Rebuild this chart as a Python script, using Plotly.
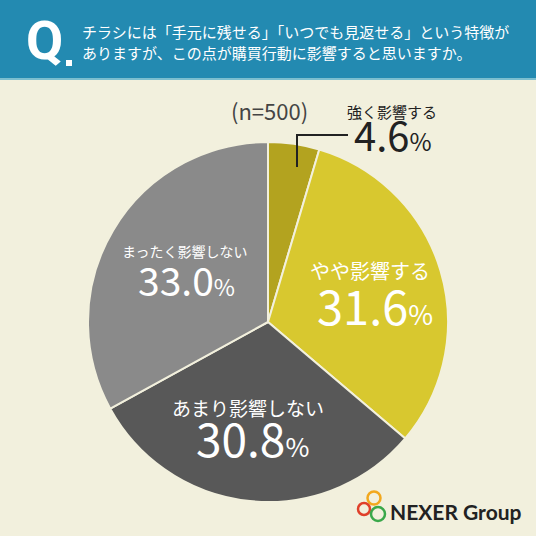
import plotly.graph_objects as go

# survey result (n=500)
labels = ["強く影響する", "やや影響する", "あまり影響しない", "まったく影響しない"]
values = [4.6, 31.6, 30.8, 33.0]
colors = ["#b3a31f", "#d8c82f", "#585858", "#8a8a8a"]
sample_size = 500

question = ["チラシには「手元に残せる」「いつでも見返せる」という特徴が",
            "ありますが、この点が購買行動に影響すると思いますか。"]

JP = "Noto Sans CJK JP"
BG = "#f2f0dd"

fig = go.Figure(go.Pie(
    labels=labels,
    values=values,
    sort=False,
    direction="clockwise",
    rotation=0,
    marker=dict(colors=colors, line=dict(color=BG, width=2)),
    textinfo="none",
    hoverinfo="label+value",
    showlegend=False,
    domain=dict(x=[88 / 536, 448 / 536], y=[1 - 502 / 536, 1 - 142 / 536]),
))


def px(x, y):
    return x / 536, 1 - y / 536


def pct_text(v, big, small):
    return (f"<span style='font-size:{big}px'>{v:.1f}</span>"
            f"<span style='font-size:{small}px'>%</span>")


annotations = []


def add_text(x, y, text, size, color, family=JP, xanchor="center", weight="normal"):
    ax, ay = px(x, y)
    annotations.append(dict(x=ax, y=ay, xref="paper", yref="paper", text=text,
                            showarrow=False, xanchor=xanchor, yanchor="middle",
                            font=dict(family=family, size=size, color=color, weight=weight)))


# labels inside slices: x, label y, label size, number x, number y, number size, % size, colour
label_pos = [(392, 111, 15, 393, 134, 40, 24, "#222222"),
             (370, 270, 20, 375, 304, 47, 27, "white"),
             (248, 407, 19, 252, 437, 46, 26, "white"),
             (184, 251, 14, 186, 279, 39, 23, "white")]
for lab, v, (x, y1, s1, x2, y2, s2, s3, c) in zip(labels, values, label_pos):
    add_text(x, y1, lab, s1, c)
    add_text(x2, y2, pct_text(v, s2, s3), s2, c)

add_text(269, 110, f"(n={sample_size})", 22, "#444444")

# header
add_text(24, 40, "Q", 54, "white", family="Roboto", xanchor="left", weight="bold")
add_text(80, 31, question[0], 15, "white", xanchor="left")
add_text(80, 53, question[1], 15, "white", xanchor="left")

# logo text
add_text(388, 511, "NEXER Group", 21, "#222222", family="Lato", xanchor="left", weight="bold")

shapes = [
    dict(type="rect", xref="paper", yref="paper", x0=0, x1=1, y0=px(0, 78)[1], y1=1,
         fillcolor="#238ab1", line=dict(width=0), layer="below"),
    dict(type="rect", xref="paper", yref="paper", x0=0, x1=1, y0=px(0, 80)[1], y1=px(0, 78)[1],
         fillcolor="#7cbfcf", line=dict(width=0), layer="below"),
    # dot after Q
    dict(type="rect", xref="paper", yref="paper", x0=66 / 536, x1=72 / 536,
         y0=px(0, 66)[1], y1=px(0, 60)[1], fillcolor="white", line=dict(width=0)),
    # leader line to smallest slice
    dict(type="path", xref="paper", yref="paper",
         path=f"M {297/536},{1-167/536} L {297/536},{1-135/536} L {348/536},{1-135/536}",
         line=dict(color="#222222", width=2)),
]

# logo rings
for cx, cy, r, col in [(374, 498, 6.5, "#f2a81e"), (364, 509, 6, "#e0402a"), (378, 514, 7, "#3aa84a")]:
    shapes.append(dict(type="circle", xref="paper", yref="paper",
                       x0=(cx - r) / 536, x1=(cx + r) / 536,
                       y0=1 - (cy + r) / 536, y1=1 - (cy - r) / 536,
                       line=dict(color=col, width=2.5)))

fig.update_layout(
    width=536, height=536,
    margin=dict(l=0, r=0, t=0, b=0),
    paper_bgcolor=BG,
    plot_bgcolor=BG,
    annotations=annotations,
    shapes=shapes,
)

fig.write_html("out.html", config={"displayModeBar": False},
               post_script="document.body.style.margin='0';document.body.style.overflow='hidden';")
